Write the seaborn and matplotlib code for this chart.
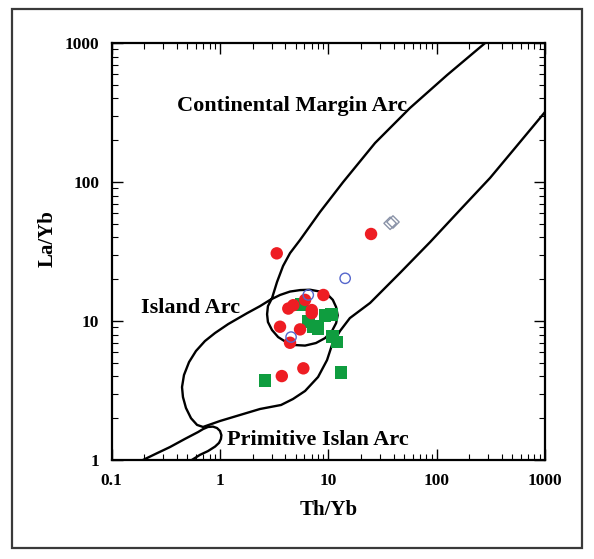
import pandas as pd
import matplotlib
matplotlib.use("Agg")
import matplotlib.pyplot as plt
from matplotlib.patches import Rectangle
from matplotlib.ticker import FuncFormatter, LogLocator, NullFormatter
import seaborn as sns

# --- sample ratios ---
red_th = [3.34, 24.8, 9.0, 6.10, 4.75, 4.27, 7.03, 7.03, 3.58, 5.48, 4.43, 5.88, 3.72]
red_la = [30.7, 42.3, 15.4, 14.2, 13.0, 12.3, 12.0, 11.4, 9.10, 8.71, 6.98, 4.57, 4.02]

green_th = [5.68, 6.53, 7.23, 8.04, 9.33, 10.7, 11.0, 12.0, 13.1, 2.60]
green_la = [13.2, 9.89, 9.10, 8.86, 11.0, 11.2, 7.71, 7.06, 4.27, 3.76]

blue_th = [14.3, 6.53, 4.53]
blue_la = [20.3, 15.4, 7.67]

grey_th = [37.2, 39.5]
grey_la = [50.5, 51.6]

# --- field boundaries (Th/Yb, La/Yb) ---
# one continuous outline: CMA lower edge -> island arc -> overlap loop -> CMA upper edge
arc_th = [1000, 530, 311, 164, 87, 45.9, 24.3, 15.8, 12.8, 10.8, 9.73, 8.04, 6.10,
          4.72, 3.66, 2.34, 1.53, 1.0, 0.697, 0.614, 0.540, 0.485, 0.455, 0.446,
          0.465, 0.518, 0.600, 0.726, 0.899, 1.19, 1.78, 2.34, 2.90,
          3.58, 4.43, 5.48, 6.78, 8.38, 9.93, 11.0, 11.8, 12.2, 11.8, 10.8, 9.33,
          7.69, 6.10, 4.93, 4.07, 3.44, 3.02, 2.77, 2.72, 2.77, 3.02,
          3.36, 3.82, 4.43, 5.48, 8.38, 13.7, 27.0, 56.7, 125, 280]
arc_la = [319, 176, 107, 62.9, 37.0, 22.2, 13.5, 10.5, 8.47, 6.72, 5.24, 3.96, 3.14,
          2.75, 2.49, 2.33, 2.11, 1.91, 1.73, 1.79, 2.00, 2.37, 2.84, 3.35,
          4.09, 5.07, 6.09, 7.18, 8.20, 9.51, 11.4, 12.8, 14.2,
          15.4, 16.3, 16.7, 16.8, 16.3, 15.4, 14.2, 12.6, 11.0, 9.67, 8.47, 7.54,
          6.95, 6.66, 6.72, 7.06, 7.67, 8.62, 9.84, 11.2, 12.8, 14.6,
          19.1, 24.9, 30.8, 38.3, 60.9, 100, 191, 341, 589, 1000]

prim_th = [0.194, 0.262, 0.345, 0.475, 0.627, 0.697, 0.774, 0.861, 0.938, 1.0,
           1.03, 1.02, 0.98, 0.90, 0.774, 0.653, 0.548]
prim_la = [1.0, 1.12, 1.24, 1.42, 1.59, 1.67, 1.73, 1.74, 1.70, 1.62,
           1.51, 1.42, 1.33, 1.25, 1.16, 1.09, 1.0]

x_ticks = [0.1, 1, 10, 100, 1000]
y_ticks = [1, 10, 100, 1000]

sns.set_style("ticks")
plt.rcParams['font.family'] = ['Liberation Serif', 'DejaVu Serif']
plt.rcParams['font.weight'] = 'bold'
plt.rcParams['text.color'] = 'black'
plt.rcParams['axes.labelcolor'] = 'black'

fig = plt.figure(figsize=(5.94, 5.59), dpi=100)
ax = fig.add_axes([0.188, 0.177, 0.7295, 0.746])
ax.set_xscale('log')
ax.set_yscale('log')

sns.lineplot(x=arc_th, y=arc_la, sort=False, estimator=None, color='black', lw=1.7, ax=ax)
sns.lineplot(x=prim_th, y=prim_la, sort=False, estimator=None, color='black', lw=1.7, ax=ax)

green_df = pd.DataFrame({'th': green_th, 'la': green_la})
red_df = pd.DataFrame({'th': red_th, 'la': red_la})
blue_df = pd.DataFrame({'th': blue_th, 'la': blue_la})
grey_df = pd.DataFrame({'th': grey_th, 'la': grey_la})

sns.scatterplot(data=green_df, x='th', y='la', marker='s', s=85, color='#0f9d3f',
                edgecolor='none', ax=ax, zorder=3)
sns.scatterplot(data=red_df, x='th', y='la', marker='o', s=80, color='#ee1d23',
                edgecolor='none', ax=ax, zorder=4)
sns.scatterplot(data=blue_df, x='th', y='la', marker='o', s=55, facecolor='none',
                edgecolor='#5566cc', linewidth=1.0, ax=ax, zorder=5)
sns.scatterplot(data=grey_df, x='th', y='la', marker='D', s=40, facecolor='none',
                edgecolor='#8a93a8', linewidth=1.0, ax=ax, zorder=5)

ax.set_xlim(0.1, 1000)
ax.set_ylim(1, 1000)
ax.set_xticks(x_ticks)
ax.set_yticks(y_ticks)
fmt = FuncFormatter(lambda v, p: f"{v:g}")
ax.xaxis.set_major_formatter(fmt)
ax.yaxis.set_major_formatter(fmt)
ax.xaxis.set_minor_locator(LogLocator(base=10, subs=range(2, 10)))
ax.yaxis.set_minor_locator(LogLocator(base=10, subs=range(2, 10)))
ax.xaxis.set_minor_formatter(NullFormatter())
ax.yaxis.set_minor_formatter(NullFormatter())
ax.tick_params(which='both', direction='in', top=True, right=True, colors='black')
ax.tick_params(which='major', length=8, width=1, labelsize=12.5, pad=9)
ax.tick_params(which='minor', length=4, width=0.8)
for sp in ax.spines.values():
    sp.set_linewidth(1.6)
    sp.set_color('black')

ax.set_xlabel("Th/Yb", fontsize=15, fontweight='bold', labelpad=8)
ax.set_ylabel("La/Yb", fontsize=15, fontweight='bold')
ax.yaxis.set_label_coords(-0.125, 0.53)

ax.text(4.63, 352, "Continental Margin Arc", fontsize=16, fontweight='bold',
        ha='center', va='center')
ax.text(0.54, 12.4, "Island Arc", fontsize=16, fontweight='bold', ha='center', va='center')
ax.text(8.04, 1.39, "Primitive Islan Arc", fontsize=16, fontweight='bold',
        ha='center', va='center')

fig.patches.append(Rectangle((0.0202, 0.0197), 0.9596, 0.964, transform=fig.transFigure,
                             fill=False, edgecolor='#3a3a3a', linewidth=1.6))

fig.savefig("out.png", dpi=100)
